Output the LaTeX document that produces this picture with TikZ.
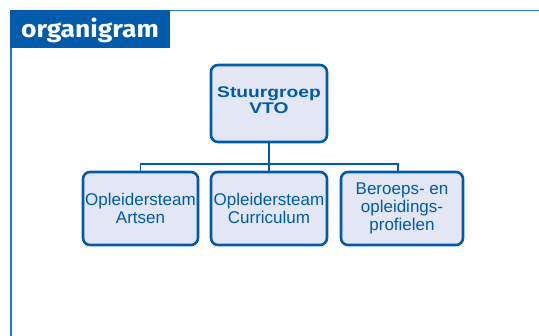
\documentclass[tikz,border=0pt]{standalone}
\usepackage{fontspec}
\setmainfont{Liberation Sans}
\newfontfamily\titlefont[FakeStretch=1.1]{Fira Sans}
\newfontfamily\headfont[FakeStretch=1.24]{Liberation Sans}
\definecolor{vtoblue}{HTML}{005BAA}
\definecolor{framblue}{HTML}{2A76C6}
\definecolor{vtofill}{HTML}{E2E6F5}
\tikzset{
  unit/.style={draw=vtoblue, line width=2.6pt, fill=vtofill, rounded corners=7pt,
    text=vtoblue, align=center, inner sep=0pt, minimum height=73pt,
    font=\fontsize{17}{18}\selectfont},
  link/.style={draw=vtoblue, line width=1.6pt},
}
\begin{document}
\begin{tikzpicture}[x=1pt, y=-1pt]
  \useasboundingbox (0,0) rectangle (539,336);

  % frame and title tab
  \draw[framblue, line width=1.5pt] (10,10.7) -- (539,10.7);
  \draw[framblue, line width=1.5pt] (11,48) -- (11,336);
  \fill[vtoblue] (10,10) rectangle (170,48.5);
  \node[text=white, anchor=base, font=\titlefont\bfseries\fontsize{24}{24}\selectfont]
    (title) at (90,37.5) {organigram};

  % boxes
  \node[unit, minimum width=116pt, minimum height=77pt,
    font=\headfont\bfseries\fontsize{15.5}{16}\selectfont] (vto) at (269,103.5)
    {Stuurgroep\\VTO\rule[-7pt]{0pt}{0pt}};
  \node[unit, minimum width=115pt] (artsen) at (140.5,208.5) {Opleidersteam\\Artsen};
  \node[unit, minimum width=116pt] (curriculum) at (269,208.5) {Opleidersteam\\Curriculum};
  \node[unit, minimum width=122pt] (profielen) at (402,208.5) {Beroeps- en\\opleidings-\\profielen};

  % connectors
  \coordinate (bus) at (269,164);
  \draw[link] (vto.south) -- (curriculum.north);
  \draw[link] (artsen.north) |- (bus) -| ([xshift=-4pt]profielen.north);
\end{tikzpicture}
\end{document}
